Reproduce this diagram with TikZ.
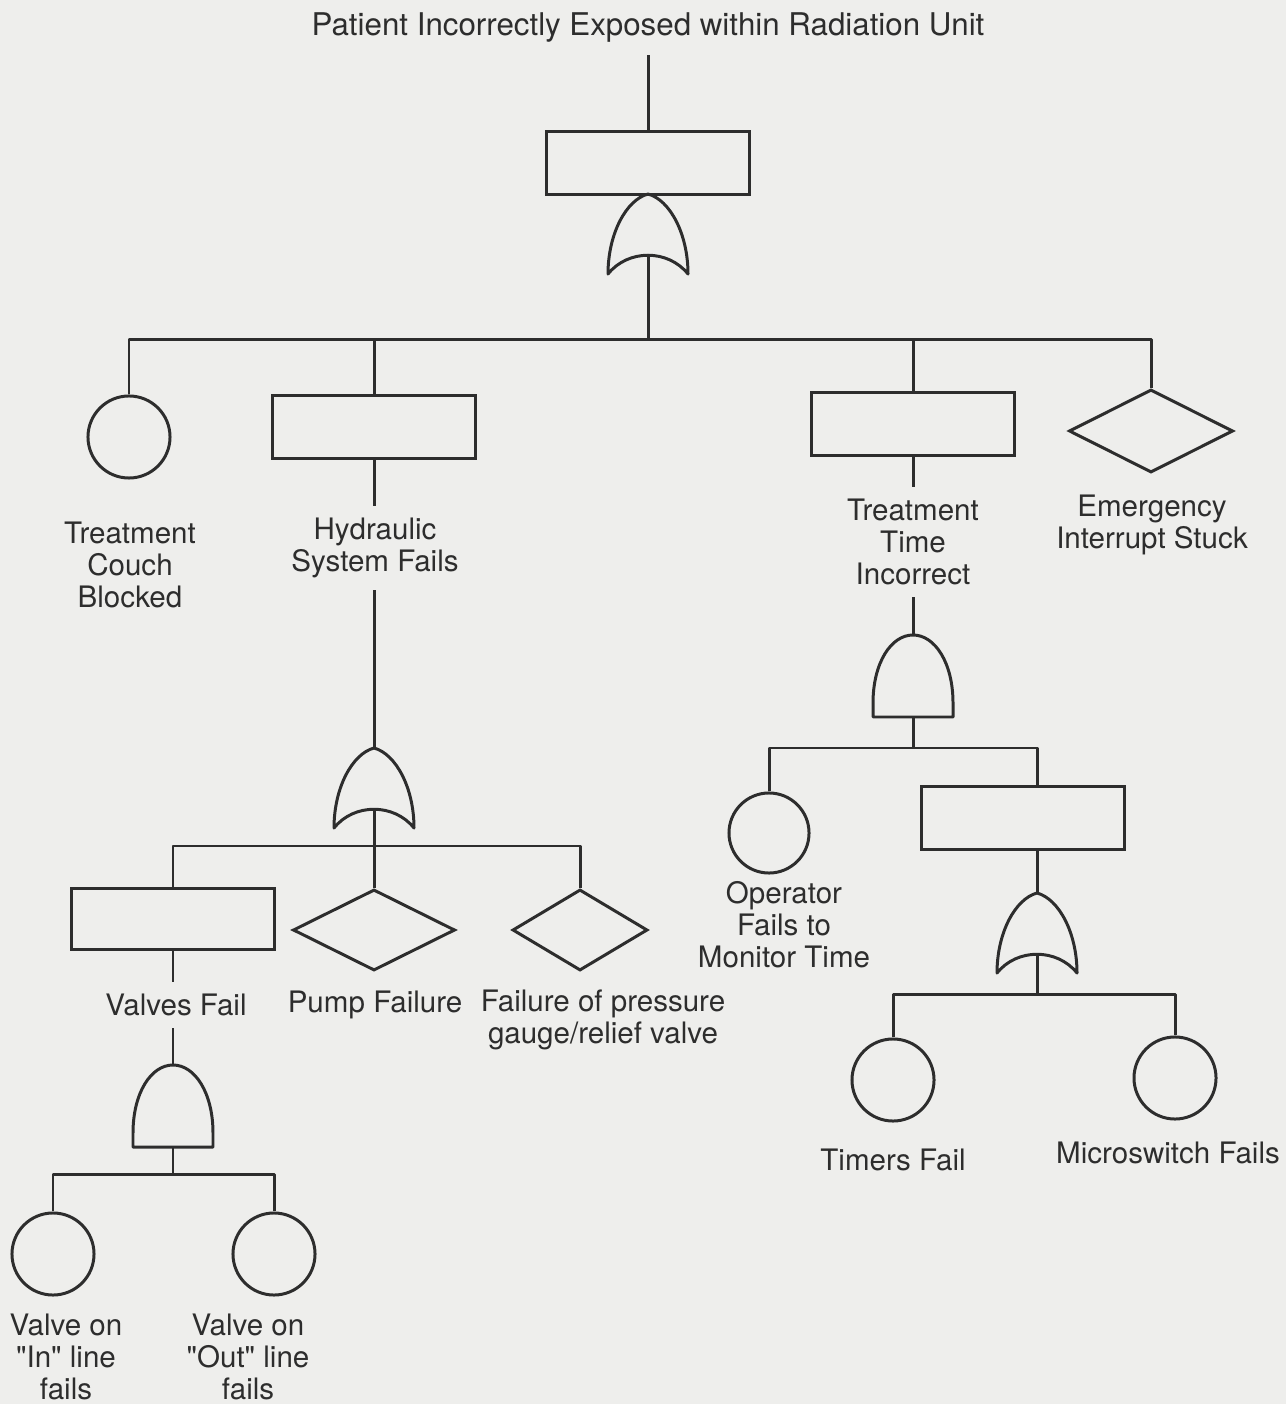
\documentclass[tikz,border=0pt]{standalone}
\usepackage{fontspec}
\setmainfont{TeX Gyre Heros}
\usetikzlibrary{shapes.geometric, positioning}
\definecolor{paper}{RGB}{238,238,236}
\definecolor{ink}{RGB}{45,45,45}
\tikzset{
  wire/.style={line width=0.85pt, color=ink, line join=round},
  eventbox/.style={rectangle, draw=ink, line width=0.85pt,
    minimum width=2.02cm, minimum height=0.62cm, inner sep=0pt},
  basic/.style={circle, draw=ink, line width=0.85pt,
    minimum size=0.82cm, inner sep=0pt},
  undev/.style={diamond, draw=ink, line width=0.85pt, inner sep=0pt},
  lbl/.style={align=center, text=ink, font=\fontsize{8.4}{9.1}\selectfont},
  orgate/.pic={
    \draw[wire] (0,0) .. controls (-22,6) and (-40,40) .. (-40,80)
      .. controls (-20,55) and (20,55) .. (40,80)
      .. controls (40,40) and (22,6) .. (0,0) -- cycle;
    \coordinate (-in) at (0,0);
    \coordinate (-out) at (0,61);
  },
  andgate/.pic={
    \draw[wire] (-40,82) -- (-40,68) .. controls (-40,28) and (-22,0) .. (0,0)
      .. controls (22,0) and (40,28) .. (40,68) -- (40,82) -- cycle;
    \coordinate (-in) at (0,0);
    \coordinate (-out) at (0,82);
  }
}
\begin{document}
\begin{tikzpicture}[x=0.01cm, y=-0.01cm]
  \fill[paper] (0,0) rectangle (1286,1404);
  \useasboundingbox (0,0) rectangle (1286,1404);

  % Top event
  \node[lbl, font=\fontsize{8.9}{9.1}\selectfont] (title) at (648,28) {Patient Incorrectly Exposed within Radiation Unit};
  \node[eventbox] (topEvent) at (648,163) {};
  \pic (topOr) at (648,194) {orgate};
  \coordinate (topBus) at (648,340);
  \draw[wire] (title.south) -- (topEvent.north);
  \draw[wire] (topOr-out) -- (topBus);

  % First level
  \node[basic] (couch) at (129,437) {};
  \node[eventbox] (hydBox) at (374,427) {};
  \node[eventbox, minimum width=2.03cm] (timeBox) at (913,424) {};
  \node[undev, minimum width=1.64cm, minimum height=0.83cm] (emerg) at (1151,431) {};
  \draw[wire] (couch.north) |- (topBus) -| (emerg.north);
  \draw[wire] (hydBox.north) -- (hydBox.north |- topBus);
  \draw[wire] (timeBox.north) -- (timeBox.north |- topBus);

  \node[lbl] (couchLbl) at (130,565) {Treatment\\Couch\\Blocked};
  \node[lbl] (hydLbl) at (375,548) {Hydraulic\\System Fails};
  \node[lbl] (timeLbl) at (913,542) {Treatment\\Time\\Incorrect};
  \node[lbl] (emergLbl) at (1152,525) {Emergency\\Interrupt Stuck};

  % Hydraulic branch
  \pic (hydOr) at (374,748) {orgate};
  \coordinate (hydBus) at (374,846);
  \draw[wire] (hydBox.south) -- (hydBox.south |- hydLbl.north);
  \draw[wire] (hydOr-in |- hydLbl.south) -- (hydOr-in);
  \draw[wire] (hydOr-out) -- (hydBus);

  \node[eventbox, minimum height=0.60cm] (valvesBox) at (173,919) {};
  \node[undev, minimum width=1.62cm, minimum height=0.81cm] (pumpDia) at (374,930) {};
  \node[undev, minimum width=1.35cm, minimum height=0.81cm] (gaugeDia) at (580,930) {};
  \draw[wire] (valvesBox.north) |- (hydBus) -| (gaugeDia.north);
  \draw[wire] (pumpDia.north) -- (hydBus);

  \node[lbl] (valvesLbl) at (176,1005) {Valves Fail};
  \node[lbl] (pumpLbl) at (375,1005) {Pump Failure};
  \node[lbl] (gaugeLbl) at (603,1020) {Failure of pressure\\gauge/relief valve};

  % Valves branch
  \pic (valvesAnd) at (173,1065) {andgate};
  \coordinate (valvesBus) at (173,1174);
  \draw[wire] (valvesBox.south) -- (valvesBox.south |- valvesLbl.north);
  \draw[wire] (valvesAnd-in |- valvesLbl.south) -- (valvesAnd-in);
  \draw[wire] (valvesAnd-out) -- (valvesBus);

  \node[basic] (inValve) at (53,1254) {};
  \node[basic] (outValve) at (274,1254) {};
  \draw[wire] (inValve.north) |- (valvesBus) -| (outValve.north);

  \node[lbl] (inLbl) at (66,1357) {Valve on\\\textquotedbl In\textquotedbl{} line\\fails};
  \node[lbl] (outLbl) at (248,1357) {Valve on\\\textquotedbl Out\textquotedbl{} line\\fails};

  % Treatment time branch
  \pic (timeAnd) at (913,635) {andgate};
  \coordinate (timeBus) at (913,748);
  \draw[wire] (timeBox.south) -- (timeBox.south |- timeLbl.north);
  \draw[wire] (timeAnd-in |- timeLbl.south) -- (timeAnd-in);
  \draw[wire] (timeAnd-out) -- (timeBus);

  \node[basic, minimum size=0.80cm] (operator) at (769,833) {};
  \node[eventbox, minimum width=2.03cm] (switchBox) at (1023,818) {};
  \coordinate (switchDrop) at (1037,748);
  \draw[wire] (operator.north) |- (timeBus) -| (switchDrop) -- (switchDrop |- switchBox.north);

  \node[lbl] (opLbl) at (784,925) {Operator\\Fails to\\Monitor Time};

  % Timer / microswitch branch
  \pic (switchOr) at (1037,893) {orgate};
  \coordinate (switchBus) at (1037,994);
  \draw[wire] (switchOr-in |- switchBox.south) -- (switchOr-in);
  \draw[wire] (switchOr-out) -- (switchBus);

  \node[basic] (timers) at (893,1080) {};
  \node[basic] (micro) at (1175,1078) {};
  \draw[wire] (timers.north) |- (switchBus) -| (micro.north);

  \node[lbl] (timersLbl) at (893,1160) {Timers Fail};
  \node[lbl] (microLbl) at (1168,1153) {Microswitch Fails};
\end{tikzpicture}
\end{document}
